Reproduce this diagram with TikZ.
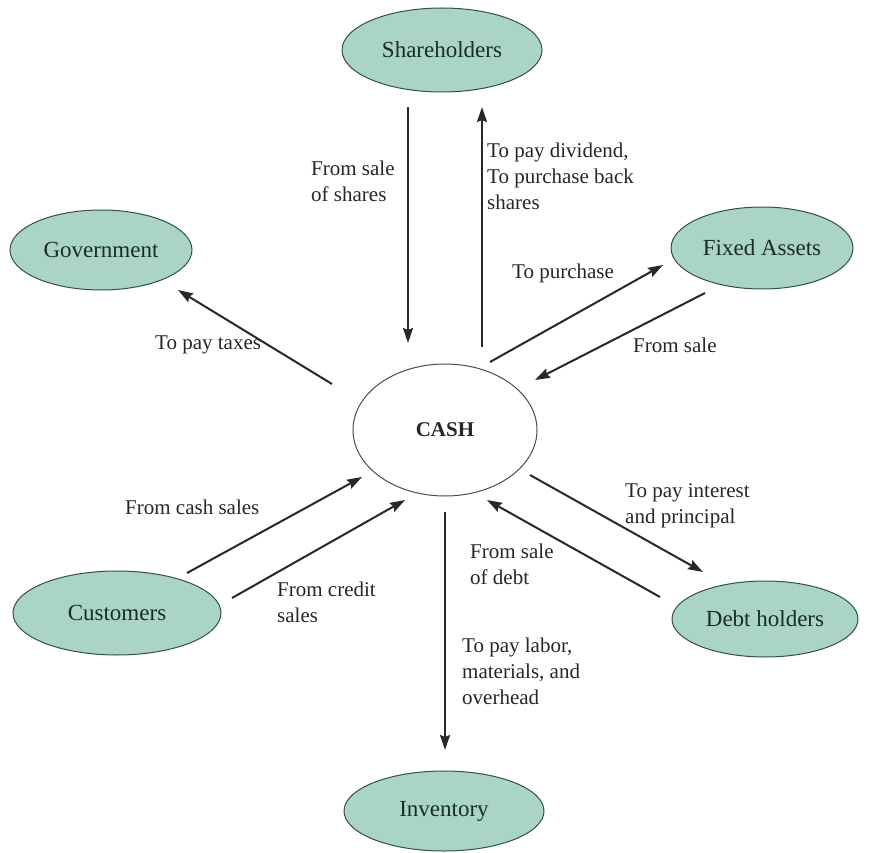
\documentclass[tikz,border=0pt]{standalone}
\usepackage{fontspec}
\setmainfont{Liberation Serif}
\usetikzlibrary{arrows.meta,shapes.geometric}
\definecolor{entfill}{RGB}{170,212,197}
\definecolor{entdraw}{RGB}{50,80,70}
\definecolor{enttext}{RGB}{25,45,38}
\definecolor{flowcol}{RGB}{40,40,40}
\begin{document}
\begin{tikzpicture}[x=1pt,y=-1pt,
  entity/.style={ellipse, draw=entdraw, fill=entfill, line width=1pt, text=enttext,
    font=\fontsize{23}{27}\selectfont, inner sep=0pt},
  cashnode/.style={ellipse, draw=black!70, fill=white, line width=1pt,
    font=\bfseries\fontsize{21}{25}\selectfont, text=black!85, inner sep=0pt},
  flow/.style={draw=flowcol, line width=2pt, -{Stealth[length=15pt,width=10pt,inset=2pt]}},
  lbl/.style={font=\fontsize{21}{26}\selectfont, text=black!85, align=left, anchor=west, inner sep=0pt}]
\useasboundingbox (0,0) rectangle (878,853);
% entities
\node[entity, minimum width=200pt, minimum height=84pt] (sh)   at (442,50)  {Shareholders};
\node[entity, minimum width=182pt, minimum height=80pt] (gov)  at (101,250) {Government};
\node[entity, minimum width=182pt, minimum height=82pt] (fa)   at (762,248) {Fixed Assets};
\node[cashnode, minimum width=184pt, minimum height=132pt] (cash) at (445,430) {CASH};
\node[entity, minimum width=208pt, minimum height=84pt] (cust) at (117,613) {Customers};
\node[entity, minimum width=186pt, minimum height=76pt] (debt) at (765,619) {Debt holders};
\node[entity, minimum width=200pt, minimum height=80pt] (inv)  at (444,811) {Inventory};
% arrow end points
\coordinate (a1s) at (408,107); \coordinate (a1e) at (408,343);
\coordinate (a2s) at (482,347); \coordinate (a2e) at (482,107);
\coordinate (a3s) at (490,362); \coordinate (a3e) at (663,265);
\coordinate (a4s) at (705,293); \coordinate (a4e) at (535,380);
\coordinate (a5s) at (332,384); \coordinate (a5e) at (178,290);
\coordinate (a6s) at (187,573); \coordinate (a6e) at (362,477);
\coordinate (a7s) at (232,598); \coordinate (a7e) at (405,500);
\coordinate (a8s) at (530,475); \coordinate (a8e) at (703,572);
\coordinate (a9s) at (660,597); \coordinate (a9e) at (487,500);
\coordinate (a10s) at (445,512); \coordinate (a10e) at (445,750);
% flows
\draw[flow] (a1s) -- (a1e);
\draw[flow] (a2s) -- (a2e);
\draw[flow] (a3s) -- (a3e);
\draw[flow] (a4s) -- (a4e);
\draw[flow] (a5s) -- (a5e);
\draw[flow] (a6s) -- (a6e);
\draw[flow] (a7s) -- (a7e);
\draw[flow] (a8s) -- (a8e);
\draw[flow] (a9s) -- (a9e);
\draw[flow] (a10s) -- (a10e);
% labels
\node[lbl] (l1) at (311,181) {From sale\\of shares};
\node[lbl] (l2) at (487,176) {To pay dividend,\\To purchase back\\shares};
\node[lbl] (l3) at (512,273) {To purchase};
\node[lbl] (l4) at (633,345) {From sale};
\node[lbl] (l5) at (155,345) {To pay taxes};
\node[lbl] (l6) at (125,507) {From cash sales};
\node[lbl] (l7) at (277,602) {From credit\\sales};
\node[lbl] (l8) at (625,506) {To pay interest\\and principal};
\node[lbl] (l9) at (470,564) {From sale\\of debt};
\node[lbl] (l10) at (462,671) {To pay labor,\\materials, and\\overhead};
\end{tikzpicture}
\end{document}
